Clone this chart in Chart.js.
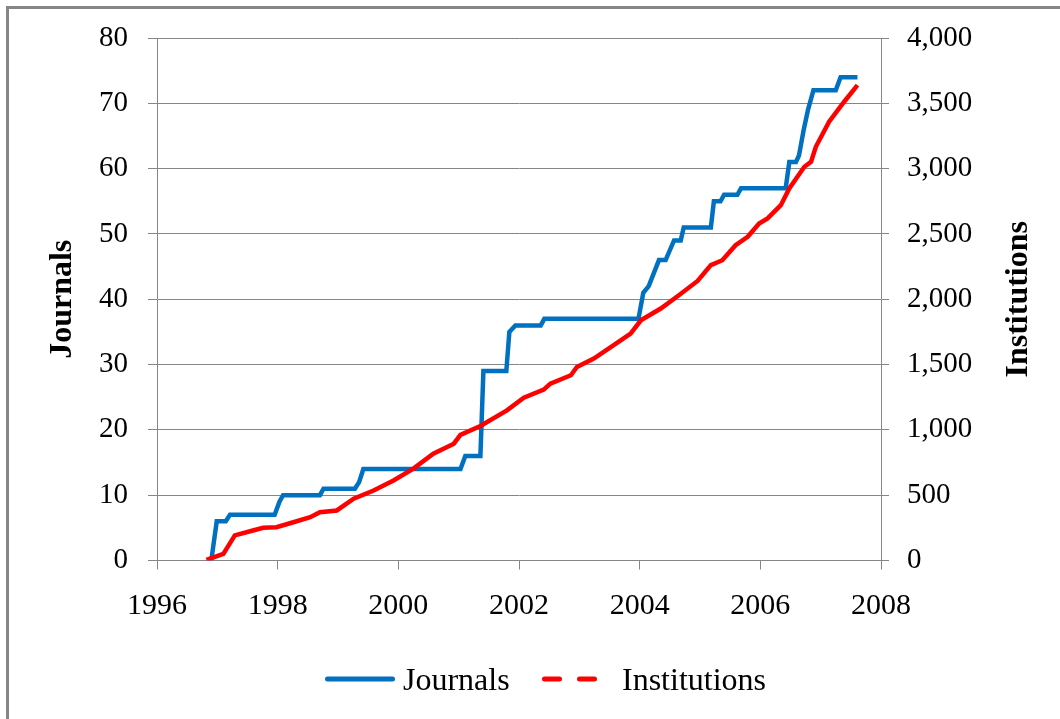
<!DOCTYPE html>
<html>
<head>
<meta charset="utf-8">
<title>Journals and Institutions</title>
<script src="https://cdn.jsdelivr.net/npm/chart.js@4.4.1/dist/chart.umd.min.js"></script>
<style>
  html, body { margin: 0; padding: 0; background: #fff; }
  #wrap { position: relative; width: 1060px; height: 719px; overflow: hidden; }
  #chart { position: absolute; left: 0; top: 0; }
  #frame {
    position: absolute; left: 6px; top: 6px; width: 1100px; height: 800px;
    border: 3px solid #868686; box-sizing: border-box; pointer-events: none;
  }
  .legend-item {
    position: absolute; top: 663px; height: 32px;
    display: flex; align-items: center;
    font: 32px "Liberation Serif", "Times New Roman", serif; color: #000;
    white-space: nowrap;
  }
  .legend-item svg { margin-right: 8px; display: block; }
</style>
</head>
<body>
<div id="wrap">
  <canvas id="chart" width="1060" height="719"></canvas>
  <div id="frame"></div>
  <div class="legend-item" style="left:325px">
    <svg width="70" height="10"><line x1="2.5" y1="5" x2="67.5" y2="5" stroke="#0070C0" stroke-width="5" stroke-linecap="round"/></svg>
    <span>Journals</span>
  </div>
  <div class="legend-item" style="left:542px">
    <svg width="72" height="10"><line x1="2.5" y1="5" x2="52.5" y2="5" stroke="#FF0000" stroke-width="5" stroke-linecap="round" stroke-dasharray="15 20"/></svg>
    <span>Institutions</span>
  </div>
</div>
<script>
  // x tick labels (years)
  const yearTicks = [1996, 1998, 2000, 2002, 2004, 2006, 2008];

  // Journals: cumulative count (step-like)
  const journalYears = [
    1996.90, 1996.99, 1997.14, 1997.21, 1997.95, 1998.03, 1998.09, 1998.70,
    1998.76, 1999.28, 1999.35, 1999.42, 2001.03, 2001.11, 2001.36, 2001.41,
    2001.79, 2001.84, 2001.94, 2002.36, 2002.42, 2003.98, 2004.06, 2004.15,
    2004.32, 2004.43, 2004.57, 2004.68, 2004.73, 2005.18, 2005.23, 2005.34,
    2005.40, 2005.62, 2005.68, 2006.42, 2006.48, 2006.59, 2006.64, 2006.72,
    2006.79, 2006.88, 2007.25, 2007.33, 2007.61
  ];
  const journalCounts = [
    0, 6, 6, 7, 7, 9, 10, 10,
    11, 11, 12, 14, 14, 16, 16, 29,
    29, 35, 36, 36, 37, 37, 41, 42,
    46, 46, 49, 49, 51, 51, 55, 55,
    56, 56, 57, 57, 61, 61, 62, 66,
    69, 72, 72, 74, 74
  ];

  // Institutions: cumulative count
  const institutionYears = [
    1996.82, 1997.10, 1997.29, 1997.59, 1997.76, 1997.98, 1998.26, 1998.54,
    1998.70, 1998.98, 1999.26, 1999.59, 1999.92, 2000.25, 2000.58, 2000.92,
    2001.03, 2001.36, 2001.80, 2002.08, 2002.41, 2002.52, 2002.86, 2002.96,
    2003.24, 2003.57, 2003.85, 2004.02, 2004.35, 2004.65, 2004.96, 2005.18,
    2005.37, 2005.59, 2005.79, 2005.98, 2006.12, 2006.34, 2006.48, 2006.73,
    2006.84, 2006.92, 2007.14, 2007.39, 2007.61
  ];
  const institutionCounts = [
    5, 51, 192, 230, 250, 255, 293, 332,
    370, 383, 473, 536, 613, 703, 817, 894,
    962, 1030, 1149, 1247, 1308, 1354, 1418, 1481,
    1546, 1648, 1737, 1839, 1929, 2031, 2140, 2261,
    2299, 2414, 2478, 2580, 2619, 2720, 2848, 3014,
    3052, 3167, 3359, 3512, 3640
  ];

  const LEFT_TITLE = 'Journals';
  const RIGHT_TITLE = 'Institutions';

  const AXIS_GREY = '#868686';
  const TICK_FONT = { family: '"Liberation Serif", "Times New Roman", serif', size: 29 };
  const X_FONT = { family: '"Liberation Serif", "Times New Roman", serif', size: 30 };

  function toPoints(xs, ys) {
    return xs.map((x, i) => ({ x: x, y: ys[i] }));
  }

  /**
   * Rotated axis titles (both read bottom-to-top, as in the original)
   */
  const axisTitles = {
    id: 'axisTitles',
    afterDraw(chart) {
      const { ctx, chartArea, scales } = chart;
      const midY = (chartArea.top + chartArea.bottom) / 2;
      const items = [
        [LEFT_TITLE, scales.y.left + 63],
        [RIGHT_TITLE, scales.y2.left + 138]
      ];
      ctx.save();
      ctx.font = 'bold 32px "Liberation Serif", "Times New Roman", serif';
      ctx.fillStyle = '#000';
      ctx.textAlign = 'center';
      ctx.textBaseline = 'middle';
      items.forEach(([text, x]) => {
        ctx.save();
        ctx.translate(x, midY);
        ctx.rotate(-Math.PI / 2);
        ctx.fillText(text, 0, 0);
        ctx.restore();
      });
      ctx.restore();
    }
  };

  const ctx = document.getElementById('chart').getContext('2d');

  new Chart(ctx, {
    type: 'line',
    data: {
      datasets: [
        {
          label: 'Journals',
          data: toPoints(journalYears, journalCounts),
          yAxisID: 'y',
          borderColor: '#0070C0',
          borderWidth: 4.5,
          pointRadius: 0,
          tension: 0,
          order: 1
        },
        {
          label: 'Institutions',
          data: toPoints(institutionYears, institutionCounts),
          yAxisID: 'y2',
          borderColor: '#FF0000',
          borderWidth: 4.5,
          pointRadius: 0,
          tension: 0,
          order: 0
        }
      ]
    },
    options: {
      responsive: false,
      animation: false,
      events: [],
      layout: { padding: { top: 38, left: 0, right: 0, bottom: 0 } },
      plugins: {
        legend: { display: false },
        tooltip: { enabled: false }
      },
      scales: {
        x: {
          type: 'linear',
          min: 1996,
          max: 2008,
          afterBuildTicks: (scale) => {
            scale.ticks = yearTicks.map((v) => ({ value: v }));
          },
          afterFit: (scale) => { scale.height = 158.5; },
          ticks: {
            callback: (v) => String(v),
            font: X_FONT,
            color: '#000',
            padding: 19,
            maxRotation: 0,
            autoSkip: false
          },
          grid: { drawOnChartArea: false, tickLength: 9, color: AXIS_GREY },
          border: { color: AXIS_GREY }
        },
        y: {
          position: 'left',
          min: 0,
          max: 80,
          afterFit: (scale) => { scale.width = 157; },
          ticks: { stepSize: 10, font: TICK_FONT, color: '#000', padding: 20 },
          grid: { color: AXIS_GREY, tickLength: 9 },
          border: { color: AXIS_GREY }
        },
        y2: {
          position: 'right',
          min: 0,
          max: 4000,
          afterFit: (scale) => { scale.width = 179; },
          ticks: {
            stepSize: 500,
            font: TICK_FONT,
            color: '#000',
            padding: 18,
            callback: (v) => v.toLocaleString('en-US')
          },
          grid: { drawOnChartArea: false, color: AXIS_GREY, tickLength: 8 },
          border: { color: AXIS_GREY }
        }
      }
    },
    plugins: [axisTitles]
  });
</script>
</body>
</html>
